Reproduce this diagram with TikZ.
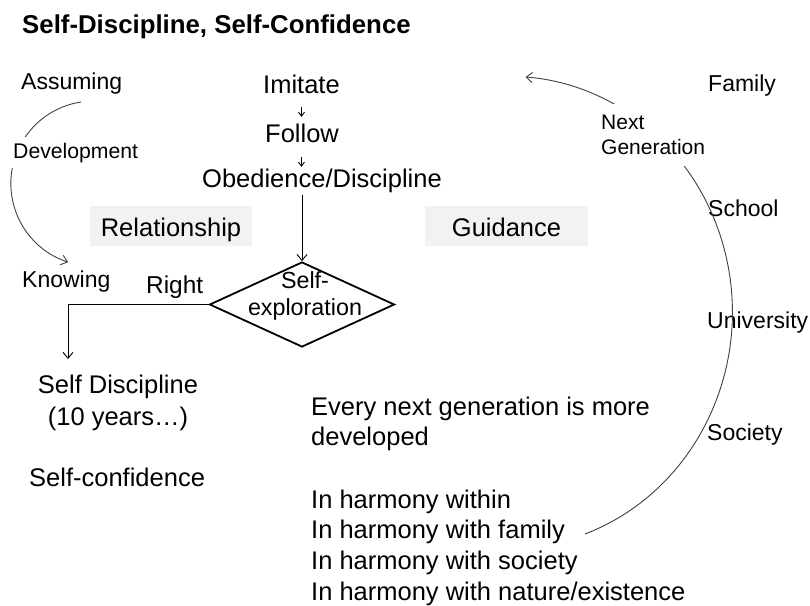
\documentclass[tikz,border=0pt]{standalone}
\usepackage{fontspec}
\setmainfont{Liberation Sans}
\usetikzlibrary{shapes.geometric,arrows.meta}
\definecolor{boxgray}{HTML}{F2F2F2}
\definecolor{linegray}{HTML}{404040}
\newcommand{\myfs}[1]{\fontsize{#1}{#1}\selectfont}
\begin{document}
\begin{tikzpicture}[x=1pt,y=-1pt,
  txt/.style={inner sep=0pt, anchor=base west, font=\myfs{25.5}},
  lbl/.style={inner sep=0pt, anchor=base west, font=\myfs{23}},
  gbox/.style={fill=boxgray, inner sep=0pt, text height=30pt, text depth=10pt, anchor=base, font=\myfs{25.5}},
  conn/.style={draw=black, line width=0.9pt},
  arcline/.style={draw=linegray, line width=0.9pt},
  bigarr/.style={-{Straight Barb[length=6pt,width=10pt]}},
  smallarr/.style={-{Straight Barb[length=4pt,width=6pt]}},
  whitebox/.style={fill=white, inner xsep=8pt},
]
\useasboundingbox (0,0) rectangle (810,605);

% title
\node[inner sep=0pt, anchor=base west, font=\bfseries\myfs{25.8}] (title) at (22,33) {Self-Discipline, Self-Confidence};

% left column
\node[lbl] (assuming) at (21,89) {Assuming};
\node[lbl] (knowing) at (22,287) {Knowing};
\node[txt, font=\myfs{24.4}] (right) at (146,293) {Right};

% centre column
\node[txt] (imitate) at (263,93) {Imitate};
\node[txt] (follow) at (265,142) {Follow};
\node[txt] (obed) at (202,187) {Obedience/Discipline};
\node[gbox, minimum width=162pt] (rel) at (171,236) {Relationship};
\node[gbox, minimum width=163pt] (guid) at (506.5,236) {Guidance};
\node[diamond, draw=black, line width=1.8pt, minimum width=185pt, minimum height=85pt, inner sep=0pt] (dia) at (302,304.5) {};
\node[inner sep=0pt, anchor=base, font=\myfs{23.3}] (self) at (305,288) {Self-};
\node[inner sep=0pt, anchor=base, font=\myfs{23.3}] (explo) at (305,315) {exploration};

\node[txt, anchor=base] (sd) at (118,393) {Self Discipline};
\node[txt, anchor=base] (ten) at (118,425) {(10 years…)};
\node[txt] (sc) at (29,486) {Self-confidence};

\node[txt] (every) at (311,415) {Every next generation is more};
\node[txt] (devd) at (311,445) {developed};
\node[txt] (h1) at (311,508) {In harmony within};
\node[txt] (h2) at (311,538.7) {In harmony with family};
\node[txt] (h3) at (311,569.4) {In harmony with society};
\node[txt] (h4) at (311,600) {In harmony with nature/existence};

% right column
\node[lbl] (family) at (708,91) {Family};
\node[lbl] (school) at (708,216) {School};
\node[lbl] (univ) at (707,328) {University};
\node[lbl] (society) at (707,440) {Society};

% arcs
\coordinate (lstart) at (81,102);
\draw[arcline, bigarr] (lstart) arc[start angle=98.6, end angle=252.2, radius=82.5pt];
\coordinate (famend) at (585,534);
\draw[arcline, bigarr] (famend) arc[start angle=-70, end angle=85.6, x radius=224pt, y radius=236pt];

% white label boxes over the arcs
\node[whitebox, inner ysep=6pt, anchor=base west, font=\myfs{21.2}] (dev) at (5,158) {Development};
\node[whitebox, inner ysep=11pt, align=left, anchor=north west, font=\fontsize{21}{25}\selectfont] (nextgen) at (593,104) {Next\\Generation};

% connectors
\draw[conn, smallarr, shorten <=14pt, shorten >=6.4pt] (imitate.south) -- (imitate.south |- follow.north);
\draw[conn, smallarr, shorten <=15pt, shorten >=1.5pt] (imitate.south |- follow.south) -- (imitate.south |- obed.north);
\draw[conn, bigarr, shorten <=2.6pt] (dia.north |- obed.south) -- (dia.north);
\coordinate (sdarrow) at (68,359);
\draw[conn, bigarr] (dia.west) -| (sdarrow);
\end{tikzpicture}
\end{document}
